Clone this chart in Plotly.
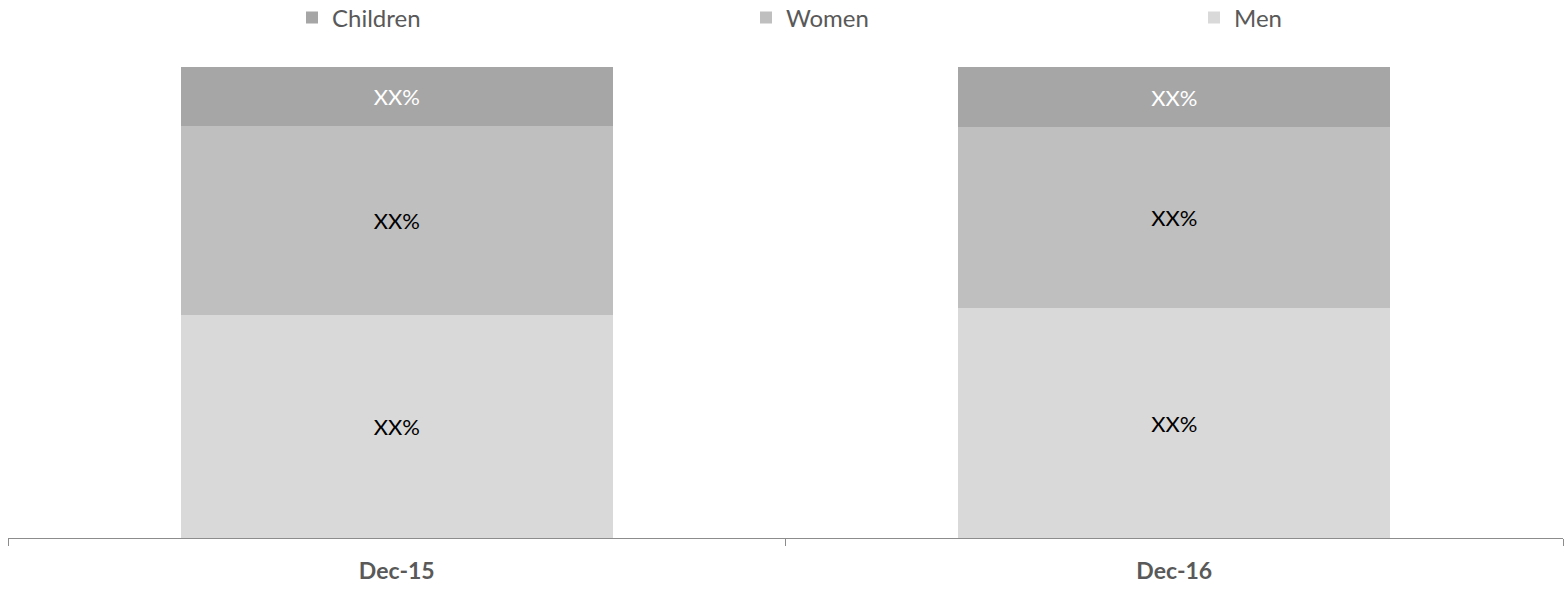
import plotly.graph_objects as go

categories = ["Dec-15", "Dec-16"]
series_names = ["Men", "Women", "Children"]
men = [47.3, 48.8]
women = [40.1, 38.4]
children = [12.6, 12.8]
label_text = "XX%"

colors = {"Men": "#d9d9d9", "Women": "#bfbfbf", "Children": "#a6a6a6"}
text_colors = {"Men": "#000000", "Women": "#000000", "Children": "#ffffff"}
legend_ids = {"Children": "legend", "Women": "legend2", "Men": "legend3"}
legend_left_px = {"legend": 292, "legend2": 746, "legend3": 1194}
values = {"Men": men, "Women": women, "Children": children}

FONT = "Lato"
W, H = 1567, 589
ML, MR = 8, 4

fig = go.Figure()
for name in series_names:
    fig.add_trace(go.Bar(
        x=categories, y=values[name], name=name,
        marker=dict(color=colors[name], line=dict(width=0)),
        text=[label_text] * len(categories),
        textposition="inside", insidetextanchor="middle",
        textfont=dict(family=FONT, size=22, color=text_colors[name]),
        width=0.556,
        legend=legend_ids[name],
        hoverinfo="skip",
    ))

legend_common = dict(orientation="h", yanchor="middle", xanchor="left",
                      yref="container", y=(H - 18) / H,
                      font=dict(family=FONT, size=24, color="#595959"),
                      bgcolor="rgba(0,0,0,0)", borderwidth=0, itemwidth=30)

layout_legends = {
    lg: dict(x=(px - ML) / (W - ML - MR), **legend_common)
    for lg, px in legend_left_px.items()
}

fig.update_layout(
    width=W, height=H,
    margin=dict(l=ML, r=MR, t=67, b=51),
    paper_bgcolor="white", plot_bgcolor="white",
    barmode="stack",
    showlegend=True,
    **layout_legends,
    xaxis=dict(
        type="category", range=[-0.5, 1.5],
        showline=True, linecolor="#8c8c8c", linewidth=1.3,
        ticks="outside", tickson="boundaries", ticklen=7, tickcolor="#8c8c8c",
        ticklabelstandoff=12,
        tickfont=dict(family=FONT, size=23, color="#595959", weight="bold"),
        showgrid=False, zeroline=False,
    ),
    yaxis=dict(range=[0, 100], visible=False, showgrid=False, zeroline=False),
)

fig.write_html("out.html")
